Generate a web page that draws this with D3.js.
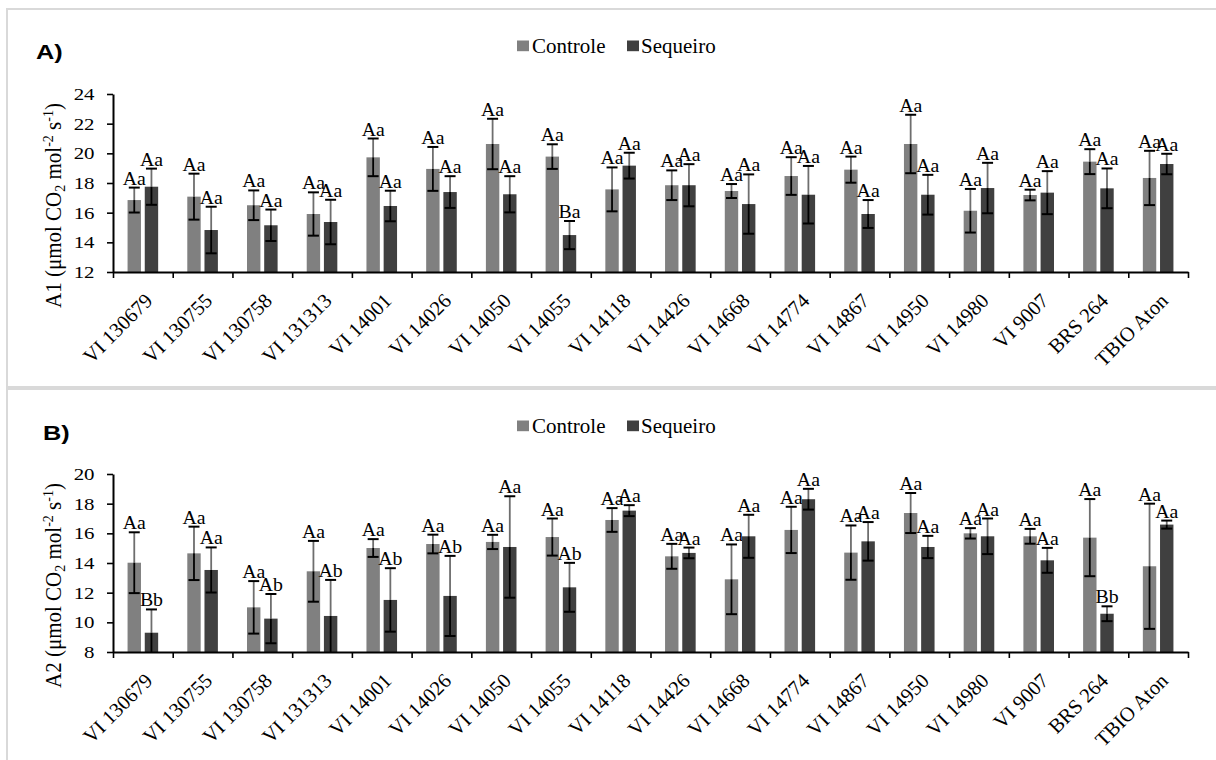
<!DOCTYPE html>
<html>
<head>
<meta charset="utf-8">
<script src="https://cdn.jsdelivr.net/npm/d3@7"></script>
<style>
  html, body { margin: 0; padding: 0; background: #fff; }
  svg { display: block; }
</style>
</head>
<body>
<script>
// ---------- DATA ----------
const categories = ["VI 130679","VI 130755","VI 130758","VI 131313","VI 14001","VI 14026","VI 14050","VI 14055","VI 14118","VI 14426","VI 14668","VI 14774","VI 14867","VI 14950","VI 14980","VI 9007","BRS 264","TBIO Aton"];
const seriesNames = ["Controle", "Sequeiro"];

// Panel A: A1
const controleA    = [16.85, 17.08, 16.50, 15.91, 19.73, 18.95, 20.63, 19.78, 17.57, 17.85, 17.46, 18.47, 18.90, 20.63, 16.13, 17.19, 19.44, 18.34];
const controleAErr = [0.84, 1.55, 1.00, 1.46, 1.27, 1.48, 1.70, 0.83, 1.48, 1.00, 0.47, 1.27, 0.88, 1.97, 1.47, 0.36, 0.84, 1.83];
const sequeiroA    = [17.75, 14.83, 15.15, 15.37, 16.45, 17.39, 17.24, 14.49, 19.17, 17.85, 16.58, 17.21, 15.91, 17.21, 17.66, 17.35, 17.64, 19.28];
const sequeiroAErr = [1.22, 1.57, 1.06, 1.50, 1.03, 1.07, 1.22, 0.95, 0.87, 1.42, 2.00, 1.94, 0.94, 1.34, 1.70, 1.45, 1.34, 0.69];
const controleALabels = ["Aa","Aa","Aa","Aa","Aa","Aa","Aa","Aa","Aa","Aa","Aa","Aa","Aa","Aa","Aa","Aa","Aa","Aa"];
const sequeiroALabels = ["Aa","Aa","Aa","Aa","Aa","Aa","Aa","Ba","Aa","Aa","Aa","Aa","Aa","Aa","Aa","Aa","Aa","Aa"];
const yTicksA = [12, 14, 16, 18, 20, 22, 24];

// Panel B: A2
const controleB    = [14.02, 14.65, 11.01, 13.44, 15.01, 15.28, 15.42, 15.75, 16.90, 14.45, 12.90, 16.23, 14.70, 17.37, 16.00, 15.80, 15.71, 13.78];
const controleBErr = [2.05, 1.80, 1.77, 2.05, 0.60, 0.63, 0.48, 1.25, 0.80, 0.84, 2.35, 1.56, 1.83, 1.35, 0.35, 0.50, 2.60, 4.22];
const sequeiroB    = [9.30, 13.53, 10.25, 10.43, 11.51, 11.78, 15.08, 12.36, 17.53, 14.68, 15.80, 18.30, 15.46, 15.08, 15.80, 14.18, 10.58, 16.59];
const sequeiroBErr = [1.57, 1.52, 1.66, 2.43, 2.14, 2.70, 3.42, 1.65, 0.37, 0.36, 1.45, 0.70, 1.30, 0.75, 1.20, 0.84, 0.50, 0.27];
const controleBLabels = ["Aa","Aa","Aa","Aa","Aa","Aa","Aa","Aa","Aa","Aa","Aa","Aa","Aa","Aa","Aa","Aa","Aa","Aa"];
const sequeiroBLabels = ["Bb","Aa","Ab","Ab","Ab","Ab","Aa","Ab","Aa","Aa","Aa","Aa","Aa","Aa","Aa","Aa","Bb","Aa"];
const yTicksB = [8, 10, 12, 14, 16, 18, 20];

// ---------- DRAWING ----------
const W = 1216, H = 760;
const SERIF = "'Liberation Serif', 'Times New Roman', serif";
const colors = { "Controle": "#808080", "Sequeiro": "#404040" };

const svg = d3.select("body").append("svg").attr("width", W).attr("height", H);
svg.append("rect").attr("width", W).attr("height", H).attr("fill", "#fff");

function stretchedText(g, x, y, str, size, sx, anchor) {
  return g.append("text")
    .attr("transform", `translate(${x},${y}) scale(${sx},1)`)
    .attr("text-anchor", anchor || "middle")
    .style("font-family", SERIF)
    .style("font-size", size + "px")
    .attr("fill", "#000")
    .text(str);
}

function drawPanel(cfg) {
  const g = svg.append("g");
  // frame
  g.append("rect")
    .attr("x", cfg.frame[0]).attr("y", cfg.frame[1])
    .attr("width", cfg.frame[2]).attr("height", cfg.frame[3])
    .attr("fill", "none").attr("stroke", "#d9d9d9").attr("stroke-width", 2);

  const left = 113, right = 1188;
  const x = d3.scaleBand().domain(categories).range([left, right]).padding(0);
  const xl = d3.scaleLinear().domain([0, categories.length]).range([left, right]);
  const x1 = d3.scaleBand().domain(seriesNames).range([-15.3, 15.3]).paddingInner(0.22);
  const y = d3.scaleLinear().domain(cfg.yDomain).range([cfg.bottom, cfg.top]);

  // y axis
  const ya = g.append("g").attr("transform", `translate(${left},0)`)
    .call(d3.axisLeft(y).tickValues(cfg.yTicks).tickSizeInner(6).tickSizeOuter(0).tickPadding(9));
  ya.select(".domain").attr("stroke", "#000").attr("stroke-width", 2);
  ya.selectAll(".tick line").attr("stroke", "#000").attr("stroke-width", 1.6);
  ya.selectAll(".tick text")
    .style("font-family", SERIF).style("font-size", "17px").attr("fill", "#000")
    .attr("transform", "scale(1.23,1)");

  // bars
  const series = [
    { name: "Controle", vals: cfg.ctrl, err: cfg.ctrlErr, labels: cfg.ctrlLabels },
    { name: "Sequeiro", vals: cfg.seq,  err: cfg.seqErr,  labels: cfg.seqLabels }
  ];
  const y0 = cfg.yDomain[0];
  series.forEach(s => {
    const data = categories.map((c, i) => ({ c, v: s.vals[i], e: s.err[i], l: s.labels[i] }));
    const cx = d => x(d.c) + x.bandwidth() / 2 + x1(s.name) + x1.bandwidth() / 2;
    g.append("g").selectAll("rect").data(data).join("rect")
      .attr("x", d => x(d.c) + x.bandwidth() / 2 + x1(s.name))
      .attr("width", x1.bandwidth())
      .attr("y", d => y(d.v))
      .attr("height", d => y(y0) - y(d.v))
      .attr("fill", colors[s.name]);
    const eg = g.append("g");
    eg.selectAll("line.up").data(data).join("line").attr("class", "up")
      .attr("x1", cx).attr("x2", cx)
      .attr("y1", d => y(d.v)).attr("y2", d => y(d.v + d.e))
      .attr("stroke", "#6e6e6e").attr("stroke-width", 1.8);
    eg.selectAll("line.down").data(data).join("line").attr("class", "down")
      .attr("x1", cx).attr("x2", cx)
      .attr("y1", d => y(d.v)).attr("y2", d => y(Math.max(y0, d.v - d.e)))
      .attr("stroke", "#000").attr("stroke-width", 1.8);
    eg.selectAll("line.capT").data(data).join("line").attr("class", "capT")
      .attr("x1", d => cx(d) - 5.5).attr("x2", d => cx(d) + 5.5)
      .attr("y1", d => y(d.v + d.e)).attr("y2", d => y(d.v + d.e))
      .attr("stroke", "#000").attr("stroke-width", 2);
    eg.selectAll("line.capB").data(data.filter(d => d.v - d.e > y0)).join("line").attr("class", "capB")
      .attr("x1", d => cx(d) - 5.5).attr("x2", d => cx(d) + 5.5)
      .attr("y1", d => y(d.v - d.e)).attr("y2", d => y(d.v - d.e))
      .attr("stroke", "#000").attr("stroke-width", 2);
    const lg = g.append("g");
    data.forEach(d => {
      stretchedText(lg, cx(d), y(d.v + d.e) - 3, d.l, 18, 1.1, "middle");
    });
  });

  // x axis
  const xa = g.append("g").attr("transform", `translate(0,${cfg.bottom})`)
    .call(d3.axisBottom(xl).tickValues(d3.range(categories.length + 1)).tickFormat("").tickSizeInner(6).tickSizeOuter(0));
  xa.select(".domain").attr("stroke", "#000").attr("stroke-width", 2);
  xa.selectAll(".tick line").attr("stroke", "#000").attr("stroke-width", 1.6);

  // category labels
  const cl = g.append("g");
  categories.forEach(c => {
    const px = x(c) + x.bandwidth() / 2 + 11;
    const py = cfg.bottom + 30;
    cl.append("text")
      .attr("transform", `translate(${px},${py}) rotate(-45)`)
      .attr("text-anchor", "end")
      .style("font-family", SERIF)
      .style("font-size", "20.5px")
      .attr("fill", "#000")
      .text(c);
  });

  // y label
  const yl = g.append("text")
    .attr("transform", `translate(61,${cfg.bottom - 66.5}) scale(1.1,1) rotate(-90)`)
    .attr("text-anchor", "middle")
    .style("font-family", SERIF)
    .style("font-size", "21px")
    .attr("fill", "#000");
  yl.append("tspan").text(cfg.yName + " (μmol CO");
  yl.append("tspan").attr("dy", 4).style("font-size", "14px").text("2");
  yl.append("tspan").attr("dy", -4).text(" mol");
  yl.append("tspan").attr("dy", -7).style("font-size", "14px").text("-2");
  yl.append("tspan").attr("dy", 7).text(" s");
  yl.append("tspan").attr("dy", -7).style("font-size", "14px").text("-1");
  yl.append("tspan").attr("dy", 7).text(")");

  // legend
  const lgY = cfg.legendY;
  g.append("rect").attr("x", 517).attr("y", lgY - 12).attr("width", 12).attr("height", 10.7).attr("fill", colors["Controle"]);
  stretchedText(g, 532, lgY, "Controle", 20, 1.05, "start");
  g.append("rect").attr("x", 627).attr("y", lgY - 12).attr("width", 12).attr("height", 10.7).attr("fill", colors["Sequeiro"]);
  stretchedText(g, 641, lgY, "Sequeiro", 20, 1.05, "start");

  // panel title
  g.append("text")
    .attr("transform", `translate(${cfg.titleX},${cfg.titleY}) scale(1.3,1)`)
    .style("font-family", "'Liberation Sans', Arial, sans-serif")
    .style("font-weight", "bold")
    .style("font-size", "19.5px")
    .attr("fill", "#000")
    .text(cfg.title);
}

drawPanel({
  frame: [7, 9, 1215, 378],
  top: 94, bottom: 272, yDomain: [12, 24], yTicks: yTicksA, yName: "A1",
  ctrl: controleA, ctrlErr: controleAErr, seq: sequeiroA, seqErr: sequeiroAErr,
  ctrlLabels: controleALabels, seqLabels: sequeiroALabels,
  legendY: 52.5, title: "A)", titleX: 36, titleY: 58.5
});

drawPanel({
  frame: [7, 389, 1215, 400],
  top: 474, bottom: 652, yDomain: [8, 20], yTicks: yTicksB, yName: "A2",
  ctrl: controleB, ctrlErr: controleBErr, seq: sequeiroB, seqErr: sequeiroBErr,
  ctrlLabels: controleBLabels, seqLabels: sequeiroBLabels,
  legendY: 432.5, title: "B)", titleX: 43, titleY: 439.5
});
</script>
</body>
</html>
